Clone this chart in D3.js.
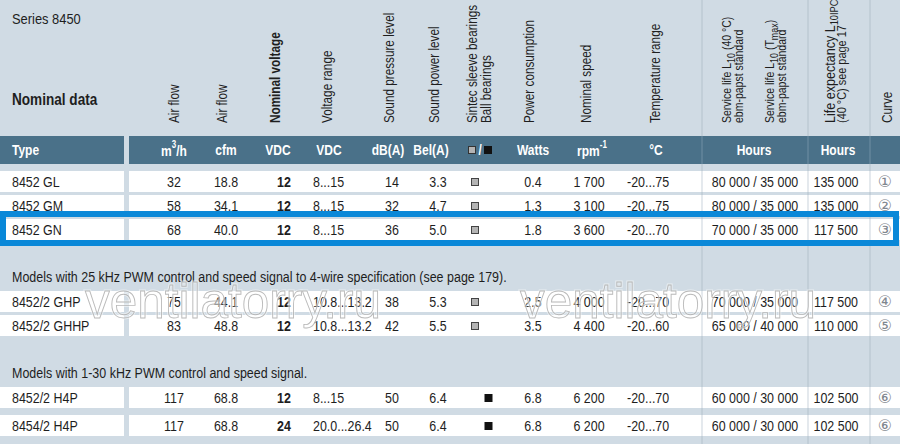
<!DOCTYPE html>
<html>
<head>
<meta charset="utf-8">
<script src="https://cdn.jsdelivr.net/npm/d3@7"></script>
<style>
  body { margin: 0; background: #d0dbe4; }
  svg { display: block; font-family: 'Liberation Sans', Arial, sans-serif; }
</style>
</head>
<body>
<div id="chart"></div>
<script>
// Table data
const types = ["8452 GL", "8452 GM", "8452 GN", "8452/2 GHP", "8452/2 GHHP", "8452/2 H4P", "8454/2 H4P"];
const airflowM3h = ["32", "58", "68", "75", "83", "117", "117"];
const airflowCfm = ["18.8", "34.1", "40.0", "44.1", "48.8", "68.8", "68.8"];
const nominalVoltage = ["12", "12", "12", "12", "12", "12", "24"];
const voltageRange = ["8...15", "8...15", "8...15", "10.8...13.2", "10.8...13.2", "8...15", "20.0...26.4"];
const soundPressure = ["14", "32", "36", "38", "42", "50", "50"];
const soundPower = ["3.3", "4.7", "5.0", "5.3", "5.5", "6.4", "6.4"];
const bearings = ["sleeve", "sleeve", "sleeve", "sleeve", "sleeve", "ball", "ball"];
const power = ["0.4", "1.3", "1.8", "2.5", "3.5", "6.8", "6.8"];
const speed = ["1 700", "3 100", "3 600", "4 000", "4 400", "6 200", "6 200"];
const tempRange = ["-20...75", "-20...75", "-20...70", "-20...70", "-20...60", "-20...70", "-20...70"];
const serviceLife = ["80 000 / 35 000", "80 000 / 35 000", "70 000 / 35 000", "70 000 / 35 000", "65 000 / 40 000", "60 000 / 30 000", "60 000 / 30 000"];
const lifeExpectancy = ["135 000", "135 000", "117 500", "117 500", "110 000", "102 500", "102 500"];
const curve = ["①", "②", "③", "④", "⑤", "⑥", "⑥"];
const rowGroup = [0, 0, 0, 1, 1, 2, 2];
const highlighted = "8452 GN";
const sectionNotes = ["",
    "Models with 25 kHz PWM control and speed signal to 4-wire specification (see page 179).",
    "Models with 1-30 kHz PWM control and speed signal."];
const units = ["m³/h", "cfm", "VDC", "VDC", "dB(A)", "Bel(A)", "", "Watts", "rpm-1", "°C", "Hours", "Hours", ""];

const W = 900, H = 444;
const SX = 0.83; // horizontal squeeze to mimic a condensed face
const bg = "#d0dbe4", band = "#4a7189", blue = "#0a88d8", sep = "#b9c6d1", ink = "#1e1e1e";

const svg = d3.select("#chart").append("svg")
    .attr("width", W).attr("height", H);

svg.append("rect").attr("width", W).attr("height", H).attr("fill", bg);

// condensed text helper
function txt(parent, x, y, s, o = {}) {
    const t = parent.append("text")
        .attr("transform", `translate(${x},${y}) scale(${o.sx || SX},1)`)
        .attr("font-size", o.size || 15)
        .attr("font-weight", o.bold ? "bold" : "normal")
        .attr("fill", o.fill || ink)
        .attr("text-anchor", o.anchor || "start")
        .attr("dominant-baseline", "central");
    if (s !== undefined) t.text(s);
    return t;
}

// columns (keys in display order)
const colKeys = ["m3h", "cfm", "nomV", "vRange", "spl", "swl", "bear", "power", "speed", "temp", "life", "lifeExp", "curve"];
const colX = d3.scaleOrdinal().domain(colKeys)
    .range([174, 226, 284, 313, 392, 438, 475, 533, 589, 627, 755, 836, 885]);
const unitX = d3.scaleOrdinal().domain(colKeys)
    .range([174, 226, 278, 329, 388, 431, 480, 533, 592, 656, 754, 838, 885]);

// rows: slot index accounts for the section gaps
const rowTop = d3.scaleLinear().domain([0, 1]).range([171, 195]);
const rowH = 21;
const slot = (i) => i + rowGroup[i] * 2;
const yRow = (i) => rowTop(slot(i)) + (i === 6 ? 4 : 0);

// vertical separators
[702, 808, 870].forEach(x => {
    svg.append("line").attr("x1", x).attr("x2", x).attr("y1", 0).attr("y2", H)
        .attr("stroke", sep).attr("stroke-width", 1.2);
});

// title block
txt(svg, 12, 19, "Series 8450", { size: 15, sx: 0.86 });
txt(svg, 12, 100, "Nominal data", { size: 16, bold: true, sx: 0.85 });

// rotated column headings
const headings = [
    { x: 174, lines: [[{ t: "Air flow" }]] },
    { x: 222, lines: [[{ t: "Air flow" }]] },
    { x: 275, bold: true, lines: [[{ t: "Nominal voltage" }]] },
    { x: 327, lines: [[{ t: "Voltage range" }]] },
    { x: 389, lines: [[{ t: "Sound pressure level" }]] },
    { x: 434, lines: [[{ t: "Sound power level" }]] },
    { x: 472, dx: 14, lines: [[{ t: "Sintec sleeve bearings" }], [{ t: "Ball bearings" }]] },
    { x: 529, lines: [[{ t: "Power consumption" }]] },
    { x: 586, lines: [[{ t: "Nominal speed" }]] },
    { x: 655, lines: [[{ t: "Temperature range" }]] },
    { x: 727, dx: 12, size: 12.5, lines: [[{ t: "Service life L" }, { t: "10", sub: true }, { t: "  (40 °C)", back: true }], [{ t: "ebm-papst standard" }]] },
    { x: 770, dx: 12, size: 12.5, lines: [[{ t: "Service life L" }, { t: "10", sub: true }, { t: " (T", back: true }, { t: "max", sub: true }, { t: ")", back: true }], [{ t: "ebm-papst standard" }]] },
    { x: 830, dx: 12, size: 13, lines: [[{ t: "Life expectancy L", big: true }, { t: "10IPC", sub: true }], [{ t: "(40 °C)  see page 17" }]] },
    { x: 887, lines: [[{ t: "Curve" }]] }
];

headings.forEach(h => {
    const size = h.size || 14;
    h.lines.forEach((line, li) => {
        const t = svg.append("text")
            .attr("transform", `translate(${h.x + li * (h.dx || 0)},123) rotate(-90) scale(0.84,1)`)
            .attr("font-size", size)
            .attr("font-weight", h.bold ? "bold" : "normal")
            .attr("dominant-baseline", "central")
            .attr("fill", ink);
        line.forEach(seg => {
            const ts = t.append("tspan").text(seg.t);
            if (seg.sub) ts.attr("font-size", size * 0.85).attr("dy", 4);
            if (seg.back) ts.attr("dy", -4);
            if (seg.big) ts.attr("font-size", size * 1.15);
        });
    });
});

// header band
svg.append("rect").attr("x", 0).attr("y", 136).attr("width", 124).attr("height", 28).attr("fill", band);
svg.append("rect").attr("x", 129).attr("y", 136).attr("width", W - 129).attr("height", 28).attr("fill", band);
[702, 808, 870].forEach(x => {
    svg.append("line").attr("x1", x).attr("x2", x).attr("y1", 136).attr("y2", 164)
        .attr("stroke", "#6a8ba0").attr("stroke-width", 1.2);
});
txt(svg, 12, 150, "Type", { size: 15, bold: true, fill: "#fff", sx: 0.8 });

colKeys.forEach((k, i) => {
    const u = units[i];
    if (!u) return;
    const t = txt(svg, unitX(k), 150, undefined, { size: 15, bold: true, fill: "#fff", anchor: "middle", sx: 0.8 });
    if (u === "rpm-1") {
        t.append("tspan").text("rpm");
        t.append("tspan").text("-1").attr("font-size", 10).attr("dy", -5);
    } else if (u === "m³/h") {
        t.append("tspan").text("m");
        t.append("tspan").text("3").attr("font-size", 10).attr("dy", -5);
        t.append("tspan").text("/h").attr("dy", 5);
    } else {
        t.text(u);
    }
});
// bearing key in the band
const bx = unitX("bear");
svg.append("rect").attr("x", bx - 11.5).attr("y", 146.5).attr("width", 7).attr("height", 7)
    .attr("fill", "#b4b4b4").attr("stroke", "#333").attr("stroke-width", 1);
txt(svg, bx, 150, "/", { size: 14, bold: true, fill: "#fff", anchor: "middle" });
svg.append("rect").attr("x", bx + 4).attr("y", 146).attr("width", 8).attr("height", 8).attr("fill", "#111");

// section notes
sectionNotes.forEach((note, g) => {
    if (!note) return;
    const first = rowGroup.indexOf(g);
    txt(svg, 12, yRow(first) - 14, note, { size: 14.5, sx: 0.86 });
});

// data rows
const rows = types.map((type, i) => ({
    type,
    m3h: airflowM3h[i], cfm: airflowCfm[i], nomV: nominalVoltage[i], vRange: voltageRange[i],
    spl: soundPressure[i], swl: soundPower[i], bear: bearings[i], power: power[i],
    speed: speed[i], temp: tempRange[i], life: serviceLife[i], lifeExp: lifeExpectancy[i], curve: curve[i],
    i
}));

const rowG = svg.selectAll(".row").data(rows).join("g").attr("class", "row")
    .attr("transform", d => `translate(0,${yRow(d.i)})`);

rowG.append("rect").attr("x", 0).attr("width", 124).attr("height", rowH).attr("fill", "#fff");
rowG.append("rect").attr("x", 129).attr("width", W - 129).attr("height", rowH).attr("fill", "#fff");
rowG.selectAll(".vsep").data([702, 808, 870]).join("line")
    .attr("x1", d => d).attr("x2", d => d).attr("y1", 0).attr("y2", rowH)
    .attr("stroke", "#d3dbe2").attr("stroke-width", 1.2);

const yMid = rowH / 2 + 0.5;
rowG.append("text")
    .attr("transform", `translate(12,${yMid}) scale(${SX},1)`)
    .attr("font-size", 15).attr("fill", ink).attr("dominant-baseline", "central")
    .text(d => d.type);

const textCols = colKeys.filter(k => k !== "bear" && k !== "curve");
textCols.forEach(k => {
    rowG.append("text")
        .attr("transform", `translate(${colX(k)},${yMid}) scale(${SX},1)`)
        .attr("text-anchor", k === "vRange" || k === "temp" ? "start" : "middle")
        .attr("dominant-baseline", "central")
        .attr("font-size", 15)
        .attr("font-weight", k === "nomV" ? "bold" : "normal")
        .attr("fill", ink)
        .text(d => d[k]);
});

// curve references
rowG.append("text")
    .attr("x", colX("curve")).attr("y", yMid - 1)
    .attr("text-anchor", "middle").attr("dominant-baseline", "central")
    .attr("font-family", "'DejaVu Sans', sans-serif").attr("font-size", 16)
    .attr("fill", "#7f868e")
    .text(d => d.curve);

// bearing markers
rowG.append("rect")
    .attr("x", d => d.bear === "ball" ? colX("bear") + 9.5 : colX("bear") - 3.5)
    .attr("y", d => d.bear === "ball" ? rowH / 2 - 3.5 : rowH / 2 - 3)
    .attr("width", d => d.bear === "ball" ? 8 : 7).attr("height", d => d.bear === "ball" ? 8 : 7)
    .attr("fill", d => d.bear === "ball" ? "#111" : "#b4b4b4")
    .attr("stroke", d => d.bear === "ball" ? "none" : "#444")
    .attr("stroke-width", 1);

// highlight box
const hi = types.indexOf(highlighted);
svg.append("rect").attr("x", 3).attr("y", yRow(hi) - 5).attr("width", W - 7).attr("height", rowH + 8)
    .attr("fill", "none").attr("stroke", blue).attr("stroke-width", 6);

// watermark
[85, 520].forEach(x => {
    svg.append("text").attr("x", x).attr("y", 318).attr("font-size", 50)
        .attr("fill", "none").attr("stroke", "#ffffff").attr("stroke-width", 3).attr("opacity", 0.5)
        .attr("textLength", 296).attr("lengthAdjust", "spacingAndGlyphs").text("ventilatorry.ru");
    svg.append("text").attr("x", x).attr("y", 318).attr("font-size", 50)
        .attr("fill", "none").attr("stroke", "#a9a9a9").attr("stroke-width", 0.9).attr("opacity", 0.8)
        .attr("textLength", 296).attr("lengthAdjust", "spacingAndGlyphs").text("ventilatorry.ru");
});
</script>
</body>
</html>
